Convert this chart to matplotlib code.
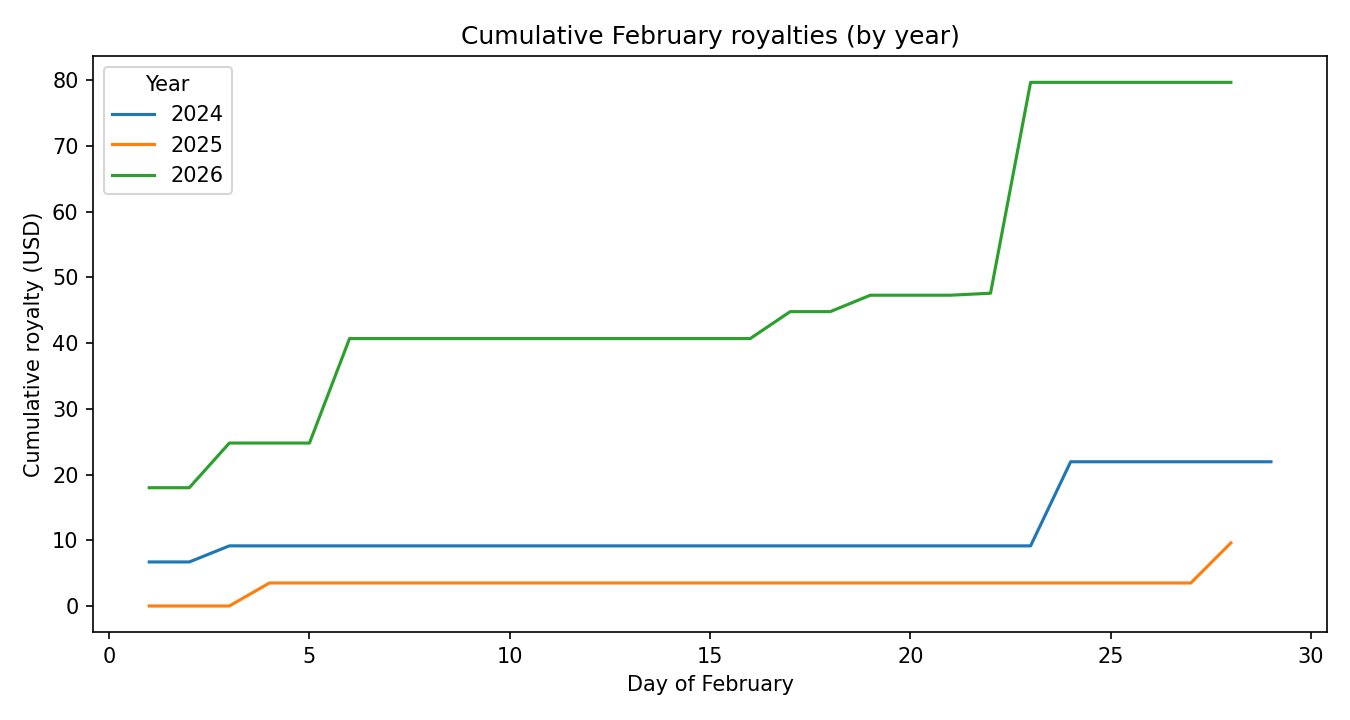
import matplotlib
matplotlib.use("Agg")
import matplotlib.pyplot as plt

days_2024 = list(range(1, 30))
vals_2024 = [6.7, 6.7] + [9.15] * 20 + [9.15, 21.95, 21.95, 21.95, 21.95, 21.95, 21.95]

days_2025 = list(range(1, 29))
vals_2025 = [0, 0, 0] + [3.5] * 24 + [9.6]

days_2026 = list(range(1, 29))
vals_2026 = ([18.0, 18.0, 24.8, 24.8, 24.8] + [40.7] * 11 +
             [44.8, 44.8, 47.3, 47.3, 47.3, 47.6] + [79.7] * 6)

fig, ax = plt.subplots(figsize=(9, 4.8), dpi=150)
ax.plot(days_2024, vals_2024, label="2024")
ax.plot(days_2025, vals_2025, label="2025")
ax.plot(days_2026, vals_2026, label="2026")
ax.set_title("Cumulative February royalties (by year)")
ax.set_xlabel("Day of February")
ax.set_ylabel("Cumulative royalty (USD)")
ax.set_xticks([0, 5, 10, 15, 20, 25, 30])
ax.legend(title="Year", loc="upper left")
fig.subplots_adjust(left=0.069, right=0.983, top=0.922, bottom=0.122)
fig.savefig("out.png")
